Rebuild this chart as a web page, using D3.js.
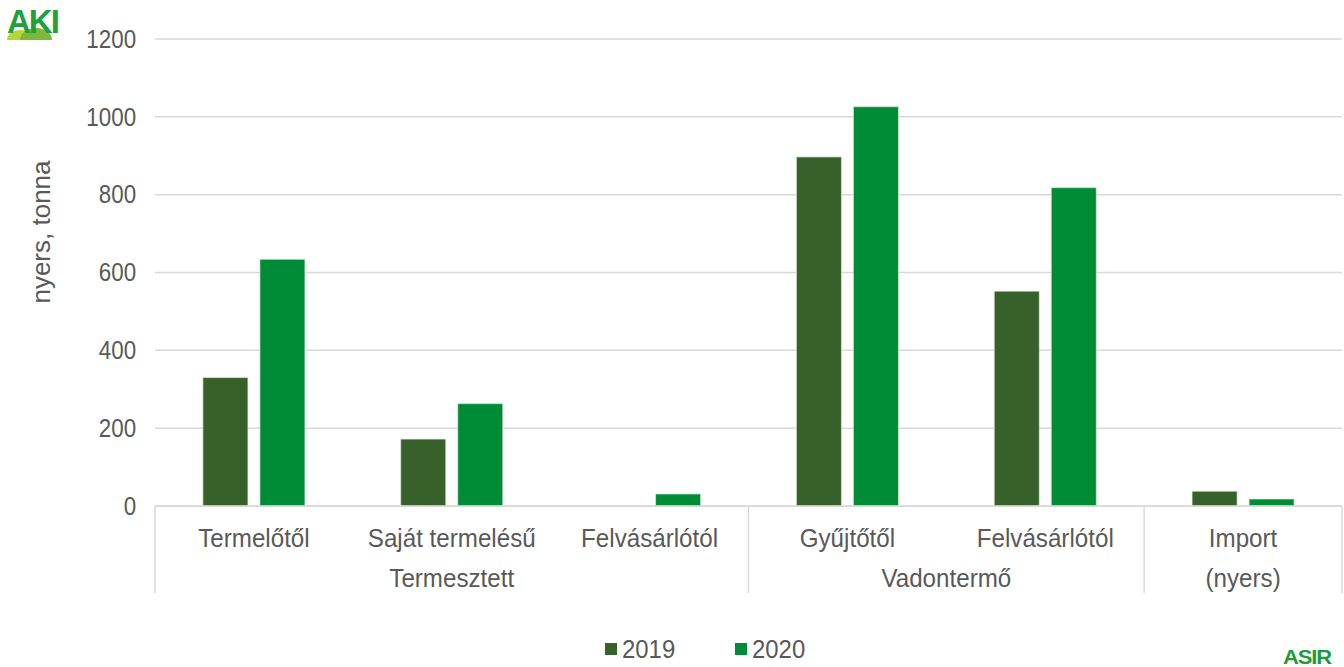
<!DOCTYPE html>
<html>
<head>
<meta charset="utf-8">
<script src="https://cdn.jsdelivr.net/npm/d3@7"></script>
<style>
  body { margin: 0; background: #fff; }
  svg { display: block; font-family: "Liberation Sans", Arial, sans-serif; }
</style>
</head>
<body>
<svg id="chart" width="1344" height="667"></svg>
<script>
// data
const categories = ["Termelőtől", "Saját termelésű", "Felvásárlótól", "Gyűjtőtől", "Felvásárlótól", "Import"];
const groups = [
    { name: "Termesztett", from: 0, to: 3 },
    { name: "Vadontermő", from: 3, to: 5 },
    { name: "(nyers)", from: 5, to: 6 }
];
const seriesNames = ["2019", "2020"];
const values2019 = [330, 172, 0, 897, 552, 38];
const values2020 = [634, 263, 31, 1026, 818, 18];
const yTicks = [0, 200, 400, 600, 800, 1000, 1200];
const colors = { "2019": "#37602B", "2020": "#008C36" };

const margin = { top: 39, right: 2, bottom: 161, left: 155 };
const width = 1344 - margin.left - margin.right;
const height = 667 - margin.top - margin.bottom;
const textGrey = "#595959";
const sx = 0.86; // the source text is a bit squeezed horizontally

const svg = d3.select("#chart");
const g = svg.append("g").attr("transform", `translate(${margin.left},${margin.top})`);

const x = d3.scaleBand().domain(d3.range(categories.length)).range([0, width]);
const xSub = d3.scaleBand().domain(seriesNames).range([0, x.bandwidth()])
    .paddingInner(0.21).paddingOuter(0.84);
const y = d3.scaleLinear().domain([0, 1200]).range([height, 0]);

// gridlines
g.selectAll("line.grid")
    .data(yTicks)
    .enter()
    .append("line")
    .attr("x1", 0).attr("x2", width)
    .attr("y1", (d) => y(d)).attr("y2", (d) => y(d))
    .attr("stroke", "#D9D9D9")
    .attr("stroke-width", 1.5);

// y axis labels
const yAxis = g.append("g")
    .call(d3.axisLeft(y).tickValues(yTicks).tickFormat(d3.format("d")).tickSize(0).tickPadding(22));
yAxis.select(".domain").remove();
yAxis.selectAll("text")
    .attr("fill", textGrey)
    .style("font-size", "26px")
    .attr("dy", "0.32em")
    .attr("transform", `scale(${sx},1)`);

// bars
const flatData = [];
categories.forEach((c, i) => {
    flatData.push({ idx: i, series: "2019", value: values2019[i] });
    flatData.push({ idx: i, series: "2020", value: values2020[i] });
});

g.selectAll("rect.bar")
    .data(flatData)
    .enter()
    .append("rect")
    .attr("class", "bar")
    .attr("x", (d) => x(d.idx) + xSub(d.series))
    .attr("y", (d) => y(d.value))
    .attr("width", xSub.bandwidth())
    .attr("height", (d) => height - y(d.value))
    .attr("fill", (d) => colors[d.series])
    .attr("stroke", "#dfe8dc")
    .attr("stroke-opacity", 0.7)
    .attr("stroke-width", 1);

// category axis line
g.append("line")
    .attr("x1", 0).attr("x2", width)
    .attr("y1", height).attr("y2", height)
    .attr("stroke", "#D9D9D9")
    .attr("stroke-width", 1.5);

// category labels
g.selectAll("text.cat")
    .data(categories)
    .enter()
    .append("text")
    .attr("class", "cat")
    .attr("transform", (d, i) => `translate(${x(i) + x.bandwidth() / 2},${height + 41}) scale(0.93,1)`)
    .attr("text-anchor", "middle")
    .attr("fill", textGrey)
    .style("font-size", "26px")
    .text((d) => d);

// group separators
const bounds = [0, 3, 5, 6].map((i) => (i < categories.length ? x(i) : width));
g.selectAll("line.sep")
    .data(bounds)
    .enter()
    .append("line")
    .attr("x1", (d) => d).attr("x2", (d) => d)
    .attr("y1", height).attr("y2", height + 87)
    .attr("stroke", "#D9D9D9")
    .attr("stroke-width", 1.5);

// group labels
g.selectAll("text.grp")
    .data(groups)
    .enter()
    .append("text")
    .attr("class", "grp")
    .attr("transform", (d) => {
        const x0 = x(d.from);
        const x1 = d.to < categories.length ? x(d.to) : width;
        return `translate(${(x0 + x1) / 2},${height + 81}) scale(0.93,1)`;
    })
    .attr("text-anchor", "middle")
    .attr("fill", textGrey)
    .style("font-size", "26px")
    .text((d) => d.name);

// y axis title
svg.append("text")
    .attr("transform", "translate(50,232) rotate(-90)")
    .attr("text-anchor", "middle")
    .attr("fill", textGrey)
    .style("font-size", "26px")
    .text("nyers, tonna");

// legend
const legend = svg.append("g").attr("transform", "translate(605,643)");
seriesNames.forEach((s, i) => {
    const item = legend.append("g").attr("transform", `translate(${i * 130},0)`);
    item.append("rect")
        .attr("width", 12).attr("height", 12)
        .attr("fill", colors[s]);
    item.append("text")
        .attr("transform", "translate(17,15) scale(0.92,1)")
        .attr("fill", textGrey)
        .style("font-size", "26px")
        .text(s);
});

// logos
const logo = svg.append("g").attr("transform", "translate(7,7)");
logo.append("path")
    .attr("d", "M0,33 A13,10 0 0 1 26,33 Z")
    .attr("fill", "#B9D531");
logo.append("path")
    .attr("d", "M13,33 A16,12 0 0 1 45,33 Z")
    .attr("fill", "#7DB83A");
logo.append("text")
    .attr("transform", "translate(0,26)")
    .attr("fill", "#22A03C")
    .style("font-size", "33px")
    .style("font-weight", "bold")
    .style("letter-spacing", "-2px")
    .text("AKI");

svg.append("text")
    .attr("transform", "translate(1283,664) scale(1.1,1)")
    .attr("fill", "#1E9B3C")
    .style("font-size", "20px")
    .style("font-weight", "bold")
    .style("letter-spacing", "-1px")
    .text("ASIR");
</script>
</body>
</html>
